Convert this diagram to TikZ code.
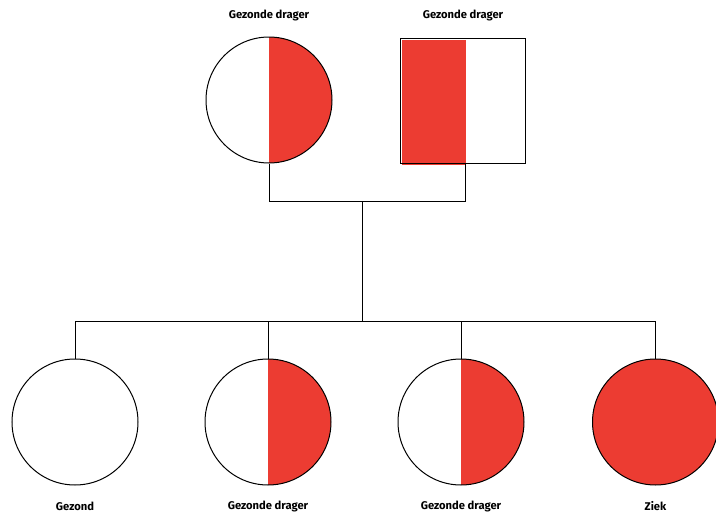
\documentclass[tikz,border=0pt]{standalone}
\usepackage{fontspec}
\setmainfont{Fira Sans}
\definecolor{sickred}{RGB}{236,60,50}
\begin{document}
\begin{tikzpicture}[x=1pt,y=-1pt,line width=1pt,
  person/.style={circle,draw=black,minimum size=126pt,inner sep=0pt},
  carrier/.style={person,path picture={\fill[sickred] (path picture bounding box.north) rectangle (path picture bounding box.south east);}},
  sick/.style={person,fill=sickred},
  male/.style={rectangle,draw=black,minimum size=125pt,inner sep=0pt},
  lbl/.style={font=\fontsize{11.2}{13}\selectfont\bfseries,inner sep=0pt}]
\useasboundingbox (0,0) rectangle (716,514);
% parents
\node[carrier] (mother) at (269,100) {};
\fill[sickred] (402,40) rectangle (466,165);
\node[male] (father) at (463,100.5) {};
\node[lbl] (lm) at (269,15) {Gezonde drager};
\node[lbl] (lf) at (463,15) {Gezonde drager};
% children
\node[person] (c1) at (75,422) {};
\node[carrier] (c2) at (268,422) {};
\node[carrier] (c3) at (461,422) {};
\node[sick] (c4) at (655.5,422) {};
\node[lbl] (l1) at (75,506) {Gezond};
\node[lbl] (l2) at (268,506) {Gezonde drager};
\node[lbl] (l3) at (461,506) {Gezonde drager};
\node[lbl] (l4) at (655.5,506) {Ziek};
% connectors
\coordinate (mate) at (362,201.5);
\coordinate (sib) at (362,321.5);
\coordinate (fdrop) at (465,163);
\draw (mother.south) -- (mother.south |- mate) -- (fdrop |- mate) -- (fdrop);
\draw (mate) -- (sib);
\draw (c1.north) -- (c1.north |- sib) -- (c4.north |- sib) -- (c4.north);
\draw (c2.north) -- (c2.north |- sib);
\draw (c3.north) -- (c3.north |- sib);
\end{tikzpicture}
\end{document}
